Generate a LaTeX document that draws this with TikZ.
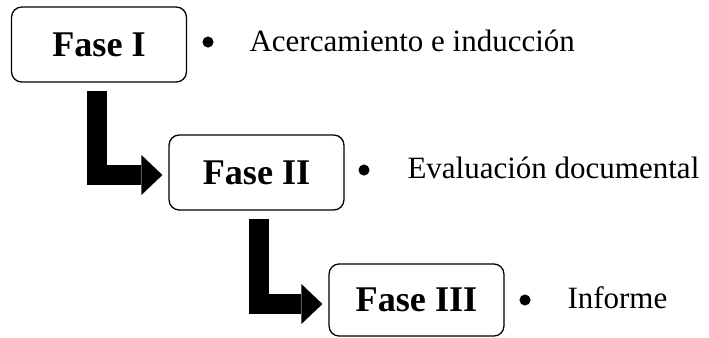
\documentclass[tikz,border=0pt]{standalone}
\usepackage{fontspec}
\setmainfont{Liberation Serif}
\usetikzlibrary{arrows.meta}
\tikzstyle{fase}=[draw, line width=0.5pt, rounded corners=3.9pt, minimum width=67.7pt, minimum height=29pt, inner sep=0pt, font=\fontsize{14}{17}\selectfont\bfseries]
\tikzstyle{item}=[anchor=base west, inner sep=0pt, font=\fontsize{12}{14}\selectfont]
\tikzstyle{bala}=[circle, fill=black, inner sep=0pt, minimum size=4.3pt]
\tikzstyle{paso}=[line width=7.74pt, line join=miter, -{Triangle[length=8.13pt, width=15.48pt, line width=0pt]}]

\begin{document}
\begin{tikzpicture}[x=0.3871pt, y=-0.3871pt]
\useasboundingbox (0,0) rectangle (709,337);

\node[fase] (f1) at (99,44.5) {Fase I};
\node[fase] (f2) at (256.5,172.5) {Fase II};
\node[fase, minimum height=27.9pt] (f3) at (416.5,300) {Fase III};

\node[bala] (b1) at (208,42) {};
\node[bala] (b2) at (364,170) {};
\node[bala] (b3) at (525,300) {};
\node[item] (t1) at (249,51) {Acercamiento e inducción};
\node[item] (t2) at (407,178) {Evaluación documental};
\node[item] (t3) at (567,308) {Informe};

\draw[paso] ([shift={(-2,8)}]f1.south) |- ([shift={(-6,2.5)}]f2.west);
\draw[paso] ([shift={(2.5,8)}]f2.south) |- ([shift={(-6,4)}]f3.west);
\end{tikzpicture}
\end{document}
